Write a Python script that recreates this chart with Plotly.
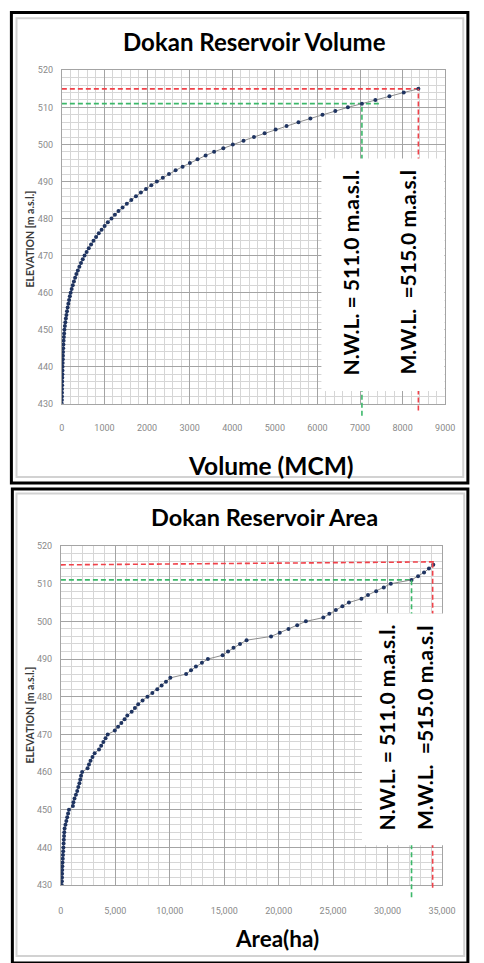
import plotly.graph_objects as go

# ---------------- data ----------------
elevation = [430, 431, 432, 433, 434, 435, 436, 437, 438, 439,
             440, 441, 442, 443, 444, 445, 446, 447, 448, 449,
             450, 451, 452, 453, 454, 455, 456, 457, 458, 459,
             460, 461, 462, 463, 464, 465, 466, 467, 468, 469,
             470, 471, 472, 473, 474, 475, 476, 477, 478, 479,
             480, 481, 482, 483, 484, 485, 486, 487, 488, 489,
             490, 491, 492, 493, 494, 495, 496, 497, 498, 499,
             500, 501, 502, 503, 504, 505, 506, 507, 508, 509,
             510, 511, 512, 513, 514, 515]

volume_mcm = [0, 1, 2, 3, 4, 6, 8, 10, 12, 14,
              16, 19, 22, 25, 28, 32, 36, 41, 47, 53,
              60, 71, 82, 94, 107, 121, 136, 152, 169, 187,
              206, 230, 256, 283, 311, 341, 375, 411, 449, 490,
              533, 581, 632, 686, 743, 803, 866, 933, 1004, 1079,
              1165, 1245, 1330, 1425, 1525, 1630, 1740, 1855, 1975, 2100,
              2230, 2370, 2515, 2670, 2835, 3005, 3185, 3375, 3575, 3790,
              4015, 4265, 4510, 4760, 5020, 5275, 5555, 5835, 6120, 6420,
              6715, 7045, 7360, 7690, 8027, 8370]

area_ha = [80, 90, 100, 110, 120, 130, 150, 170, 190, 210,
           230, 250, 270, 290, 310, 340, 420, 500, 580, 660,
           740, 1100, 1150, 1250, 1380, 1500, 1600, 1700, 1780, 1850,
           1950, 2450, 2580, 2720, 2900, 3100, 3500, 3700, 3900, 4100,
           4300, 4950, 5250, 5550, 5850, 6100, 6500, 6800, 7100, 7500,
           7950, 8400, 8850, 9250, 9650, 10050, 11500, 11950, 12400, 12950,
           13500, 14850, 15350, 15850, 16450, 17050, 19300, 20100, 20900, 21700,
           22500, 24100, 24650, 25250, 25850, 26450, 27600, 28200, 28950, 29650,
           30300, 32200, 32800, 33350, 33800, 34200]

NWL = 511.0
MWL = 515.0
NWL_VOL_LINE_END = 7450          # end of green dashed line, volume chart
MWL_AREA_LINE_END = 34450        # end of red dashed line, area chart
MWL_AREA_LINE_END_ELEV = 515.8   # red line in the area chart is slightly tilted

vol_ticks = [0, 1000, 2000, 3000, 4000, 5000, 6000, 7000, 8000, 9000]
area_ticks = [0, 5000, 10000, 15000, 20000, 25000, 30000, 35000]
elev_ticks = [430, 440, 450, 460, 470, 480, 490, 500, 510, 520]

nwl_text = "N.W.L. = 511.0 m.a.s.l."
mwl_text = "M.W.L. \u00a0=515.0 m.a.s.l"

# ---------------- layout helpers ----------------
W, H = 484, 963


def px(x):
    return x / W


def py(y):
    return 1 - y / H


vol_at = dict(zip(elevation, volume_mcm))
area_at = dict(zip(elevation, area_ha))
ELEV_RANGE = [elev_ticks[0], elev_ticks[-1]]


def frac(e):
    return (e - ELEV_RANGE[0]) / (ELEV_RANGE[1] - ELEV_RANGE[0])


RED = "#f0424a"
GREEN = "#3cb86a"
MARK = "#1f3461"
LINE = "#8c8c8c"
MAJ = "#a4a4a4"
MIN = "#d6d6d6"
TICKF = dict(family="Liberation Sans Narrow, Roboto, sans-serif", size=9, color="#8a8a8a")
BOLD = "Lato, Open Sans, sans-serif"

fig = go.Figure()

# ---- volume chart (top) ----
fig.add_trace(go.Scatter(x=[0, vol_at[MWL]], y=[MWL, MWL], mode="lines",
                         line=dict(color=RED, width=1.6, dash="5px,3px"),
                         xaxis="x", yaxis="y", hoverinfo="skip"))
fig.add_trace(go.Scatter(x=[0, NWL_VOL_LINE_END], y=[NWL, NWL], mode="lines",
                         line=dict(color=GREEN, width=1.6, dash="5px,3px"),
                         xaxis="x", yaxis="y", hoverinfo="skip"))
fig.add_trace(go.Scatter(x=volume_mcm, y=elevation, mode="lines+markers",
                         line=dict(color=LINE, width=1),
                         marker=dict(color=MARK, size=4),
                         xaxis="x", yaxis="y"))

# ---- area chart (bottom) ----
fig.add_trace(go.Scatter(x=[0, MWL_AREA_LINE_END], y=[MWL, MWL_AREA_LINE_END_ELEV], mode="lines",
                         line=dict(color=RED, width=1.6, dash="5px,3px"),
                         xaxis="x2", yaxis="y2", hoverinfo="skip"))
fig.add_trace(go.Scatter(x=[0, area_at[NWL]], y=[NWL, NWL], mode="lines",
                         line=dict(color=GREEN, width=1.6, dash="5px,3px"),
                         xaxis="x2", yaxis="y2", hoverinfo="skip"))
fig.add_trace(go.Scatter(x=area_ha, y=elevation, mode="lines+markers",
                         line=dict(color=LINE, width=1),
                         marker=dict(color=MARK, size=4),
                         xaxis="x2", yaxis="y2"))


def xax(domain, rng, ticks, fmt, minor_dt, anchor, standoff):
    return dict(domain=domain, range=rng, anchor=anchor, tickmode="array", tickvals=ticks,
                tickformat=fmt, showgrid=True, gridcolor=MAJ, gridwidth=1,
                minor=dict(dtick=minor_dt, tick0=0, showgrid=True, gridcolor=MIN, gridwidth=1),
                showline=True, linecolor=MAJ, linewidth=1, mirror=True, zeroline=False,
                ticks="", tickfont=TICKF, ticklabelstandoff=standoff, fixedrange=True)


def yax(domain, anchor):
    return dict(domain=domain, range=ELEV_RANGE, anchor=anchor, tickmode="array", tickvals=elev_ticks,
                showgrid=True, gridcolor=MAJ, gridwidth=1,
                minor=dict(dtick=2, tick0=430, showgrid=True, gridcolor=MIN, gridwidth=1),
                showline=True, linecolor=MAJ, linewidth=1, mirror=True, zeroline=False,
                ticks="", tickfont=TICKF, ticklabelstandoff=6, fixedrange=True)


shapes = []
# vertical dashed lines (extend slightly below the axis)
shapes.append(dict(type="line", xref="x", yref="y domain", x0=vol_at[MWL], x1=vol_at[MWL],
                   y0=-0.02, y1=frac(MWL), line=dict(color=RED, width=1.6, dash="5px,3px"), layer="above"))
shapes.append(dict(type="line", xref="x", yref="y domain", x0=vol_at[NWL], x1=vol_at[NWL],
                   y0=-0.036, y1=frac(NWL), line=dict(color=GREEN, width=1.6, dash="5px,3px"), layer="above"))
shapes.append(dict(type="line", xref="x2", yref="y2 domain", x0=area_at[MWL] - 60, x1=area_at[MWL] - 60,
                   y0=-0.008, y1=frac(MWL_AREA_LINE_END_ELEV), line=dict(color=RED, width=1.6, dash="5px,3px"), layer="above"))
shapes.append(dict(type="line", xref="x2", yref="y2 domain", x0=area_at[NWL], x1=area_at[NWL],
                   y0=-0.036, y1=frac(NWL), line=dict(color=GREEN, width=1.6, dash="5px,3px"), layer="above"))
# white label boxes
shapes.append(dict(type="rect", xref="paper", yref="paper", x0=px(330), x1=px(457.5), y0=py(390), y1=py(155),
                   fillcolor="white", line=dict(width=0), layer="above"))
shapes.append(dict(type="rect", xref="paper", yref="paper", x0=px(372), x1=px(461), y0=py(849), y1=py(615),
                   fillcolor="white", line=dict(width=0), layer="above"))
# chart-area frames (light) and outer black frames
shapes.append(dict(type="rect", xref="paper", yref="paper", x0=px(14), x1=px(477), y0=py(477), y1=py(13.5),
                   line=dict(color="#d2d2d2", width=2), layer="above"))
shapes.append(dict(type="rect", xref="paper", yref="paper", x0=px(14), x1=px(478), y0=py(961), y1=py(493.5),
                   line=dict(color="#d2d2d2", width=2), layer="above"))
shapes.append(dict(type="rect", xref="paper", yref="paper", x0=px(8.7), x1=px(481.8), y0=py(483), y1=py(7.5),
                   line=dict(color="black", width=3), layer="above"))
shapes.append(dict(type="rect", xref="paper", yref="paper", x0=px(9.7), x1=px(481.8), y0=py(968), y1=py(489),
                   line=dict(color="black", width=3), layer="above"))

annotations = []


def ann(text, x, y, size, angle=0, color="black", bold=True, family=BOLD):
    t = "<b>%s</b>" % text if bold else text
    annotations.append(dict(text=t, x=px(x), y=py(y), xref="paper", yref="paper",
                            xanchor="center", yanchor="middle", showarrow=False, textangle=angle,
                            font=dict(family=family, size=size, color=color)))


ann("Dokan Reservoir Volume", 261, 37, 24)
ann("Dokan Reservoir Area", 271, 517, 23.5)
ann("Volume (MCM)", 278, 465, 24.5)
ann("Area(ha)", 283.5, 943, 22.5)
ann("ELEVATION [m a.s.l.]", 27, 237, 10.5, angle=-90, color="#3a3a3a")
ann("ELEVATION [m a.s.l.]", 27, 718, 10.5, angle=-90, color="#3a3a3a")
ann(nwl_text, 360, 270, 21, angle=-90)
ann(mwl_text, 419, 270, 21, angle=-90)
ann(nwl_text, 397, 730, 21, angle=-90)
ann(mwl_text, 437, 730, 21, angle=-90)

fig.update_layout(
    width=W, height=H, autosize=False,
    margin=dict(l=0, r=0, t=0, b=0),
    paper_bgcolor="white", plot_bgcolor="white",
    showlegend=False,
    xaxis=xax([px(61), px(458.3)], [vol_ticks[0], vol_ticks[-1]], vol_ticks, "d", 200, "y", 15),
    yaxis=yax([py(403), py(66)], "x"),
    xaxis2=xax([px(60), px(455)], [area_ticks[0], area_ticks[-1]], area_ticks, ",d", 1000, "y2", 17),
    yaxis2=yax([py(889.3), py(546.7)], "x2"),
    shapes=shapes,
    annotations=annotations,
)

fig.write_html("out.html")
